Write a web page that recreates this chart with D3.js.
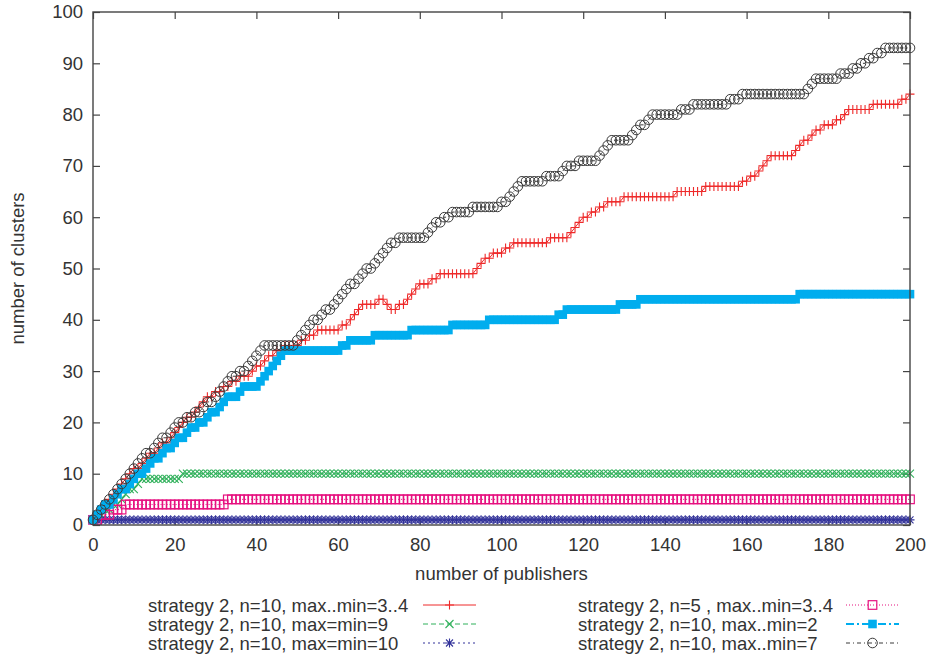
<!DOCTYPE html>
<html>
<head>
<meta charset="utf-8">
<script src="https://d3js.org/d3.v7.min.js"></script>
<style>
  body { margin: 0; background: #fff; }
  text { font-family: "Liberation Sans", Arial, sans-serif; fill: #333; }
</style>
</head>
<body>
<div id="chart"></div>
<script>
// number of publishers 0..200 (one sample per publisher)
var publishers = d3.range(0, 201);

// strategy 2, n=10, max..min=3..4
var clustersMax34 = [
  1,2,3,4,5,6,7,8,9,10,
  11,11,12,13,14,14,15,16,16,17,
  18,19,20,21,21,22,23,24,25,25,
  26,26,27,27,28,28,29,29,29,30,
  31,31,32,33,33,34,34,35,35,35,
  35,36,36,37,37,38,38,38,38,38,
  38,39,39,40,41,42,43,43,43,43,
  44,44,43,42,42,43,43,44,45,46,
  47,47,47,48,48,49,49,49,49,49,
  49,49,49,49,50,51,52,52,53,53,
  53,54,54,55,55,55,55,55,55,55,
  55,55,56,56,56,56,56,57,58,59,
  60,60,61,61,62,62,63,63,63,63,
  64,64,64,64,64,64,64,64,64,64,
  64,64,64,65,65,65,65,65,65,65,
  66,66,66,66,66,66,66,66,66,67,
  67,68,68,69,70,71,72,72,72,72,
  72,72,73,74,75,75,76,77,77,78,
  78,78,79,79,80,81,81,81,81,81,
  81,82,82,82,82,82,82,82,83,83,
  84];

// strategy 2, n=5 , max..min=3..4
var clustersN5 = [
  1,1,2,2,2,3,3,3,4,4,4,4,4,4,4,4,4,4,4,4,
  4,4,4,4,4,4,4,4,4,4,4,4,4,5,5,5,5,5,5,5,
  5,5,5,5,5,5,5,5,5,5,5,5,5,5,5,5,5,5,5,5,
  5,5,5,5,5,5,5,5,5,5,5,5,5,5,5,5,5,5,5,5,
  5,5,5,5,5,5,5,5,5,5,5,5,5,5,5,5,5,5,5,5,
  5,5,5,5,5,5,5,5,5,5,5,5,5,5,5,5,5,5,5,5,
  5,5,5,5,5,5,5,5,5,5,5,5,5,5,5,5,5,5,5,5,
  5,5,5,5,5,5,5,5,5,5,5,5,5,5,5,5,5,5,5,5,
  5,5,5,5,5,5,5,5,5,5,5,5,5,5,5,5,5,5,5,5,
  5,5,5,5,5,5,5,5,5,5,5,5,5,5,5,5,5,5,5,5,
  5];

// strategy 2, n=10, max=min=9
var clustersMax9 = [
  1,2,2,3,3,4,4,5,6,7,7,8,9,9,9,9,9,9,9,9,
  9,9,10,10,10,10,10,10,10,10,10,10,10,10,10,10,10,10,10,10,
  10,10,10,10,10,10,10,10,10,10,10,10,10,10,10,10,10,10,10,10,
  10,10,10,10,10,10,10,10,10,10,10,10,10,10,10,10,10,10,10,10,
  10,10,10,10,10,10,10,10,10,10,10,10,10,10,10,10,10,10,10,10,
  10,10,10,10,10,10,10,10,10,10,10,10,10,10,10,10,10,10,10,10,
  10,10,10,10,10,10,10,10,10,10,10,10,10,10,10,10,10,10,10,10,
  10,10,10,10,10,10,10,10,10,10,10,10,10,10,10,10,10,10,10,10,
  10,10,10,10,10,10,10,10,10,10,10,10,10,10,10,10,10,10,10,10,
  10,10,10,10,10,10,10,10,10,10,10,10,10,10,10,10,10,10,10,10,
  10];

// strategy 2, n=10, max..min=2
var clustersMax2 = [
  1,2,3,4,4,5,6,7,7,8,
  9,10,10,11,12,13,13,14,15,15,
  16,17,17,18,19,19,20,20,21,22,
  22,23,24,25,25,25,26,27,27,27,
  27,28,29,30,31,32,33,34,34,34,
  34,34,34,34,34,34,34,34,34,34,
  34,35,35,36,36,36,36,36,36,37,
  37,37,37,37,37,37,37,37,38,38,
  38,38,38,38,38,38,38,38,39,39,
  39,39,39,39,39,39,39,40,40,40,
  40,40,40,40,40,40,40,40,40,40,
  40,40,40,40,41,41,42,42,42,42,
  42,42,42,42,42,42,42,42,42,43,
  43,43,43,43,44,44,44,44,44,44,
  44,44,44,44,44,44,44,44,44,44,
  44,44,44,44,44,44,44,44,44,44,
  44,44,44,44,44,44,44,44,44,44,
  44,44,44,45,45,45,45,45,45,45,
  45,45,45,45,45,45,45,45,45,45,
  45,45,45,45,45,45,45,45,45,45,
  45];

// strategy 2, n=10, max=min=10
var clustersMax10 = [
  1,1,1,1,1,1,1,1,1,1,1,1,1,1,1,1,1,1,1,1,
  1,1,1,1,1,1,1,1,1,1,1,1,1,1,1,1,1,1,1,1,
  1,1,1,1,1,1,1,1,1,1,1,1,1,1,1,1,1,1,1,1,
  1,1,1,1,1,1,1,1,1,1,1,1,1,1,1,1,1,1,1,1,
  1,1,1,1,1,1,1,1,1,1,1,1,1,1,1,1,1,1,1,1,
  1,1,1,1,1,1,1,1,1,1,1,1,1,1,1,1,1,1,1,1,
  1,1,1,1,1,1,1,1,1,1,1,1,1,1,1,1,1,1,1,1,
  1,1,1,1,1,1,1,1,1,1,1,1,1,1,1,1,1,1,1,1,
  1,1,1,1,1,1,1,1,1,1,1,1,1,1,1,1,1,1,1,1,
  1,1,1,1,1,1,1,1,1,1,1,1,1,1,1,1,1,1,1,1,
  1];

// strategy 2, n=10, max..min=7
var clustersMax7 = [
  1,2,3,4,5,6,7,8,9,10,
  11,12,13,14,14,15,16,17,17,18,
  19,20,20,21,21,22,22,23,24,24,
  25,26,27,28,29,29,30,30,31,32,
  33,34,35,35,35,35,35,35,35,35,
  36,37,38,39,40,40,41,42,42,43,
  44,45,46,47,47,48,49,50,50,51,
  52,53,54,55,55,56,56,56,56,56,
  56,56,57,58,59,59,60,60,61,61,
  61,61,61,62,62,62,62,62,62,62,
  63,63,64,65,66,67,67,67,67,67,
  67,68,68,68,68,69,70,70,70,71,
  71,71,71,71,72,73,74,75,75,75,
  75,75,76,77,78,78,79,80,80,80,
  80,80,80,80,81,81,81,82,82,82,
  82,82,82,82,82,82,83,83,83,84,
  84,84,84,84,84,84,84,84,84,84,
  84,84,84,84,84,85,86,87,87,87,
  87,87,87,88,88,88,89,89,90,90,
  91,91,92,92,93,93,93,93,93,93,
  93];

var xTicks = [0, 20, 40, 60, 80, 100, 120, 140, 160, 180, 200];
var yTicks = [0, 10, 20, 30, 40, 50, 60, 70, 80, 90, 100];

var labels = [
  "strategy 2, n=10, max..min=3..4",
  "strategy 2, n=10, max=min=9",
  "strategy 2, n=10, max=min=10",
  "strategy 2, n=5 , max..min=3..4",
  "strategy 2, n=10, max..min=2",
  "strategy 2, n=10, max..min=7"
];

// styling, drawing order = legend order (left column, then right column)
var series = [
  {values: clustersMax34, color: "#ee2a2a", dash: null,      width: 1,   marker: "plus"},
  {values: clustersMax9,  color: "#2fb05a", dash: "5,3",     width: 1,   marker: "cross"},
  {values: clustersMax10, color: "#33339a", dash: "2,3",     width: 1,   marker: "star"},
  {values: clustersN5,    color: "#e6107f", dash: "1,2",     width: 1,   marker: "square"},
  {values: clustersMax2,  color: "#00adee", dash: "8,3,2,3", width: 2,   marker: "fsquare"},
  {values: clustersMax7,  color: "#3a3a3a", dash: "4,3,1,3", width: 1,   marker: "circle"}
];
series.forEach(function(s, i) { s.label = labels[i]; });

var W = 930, H = 657;
var plotL = 93, plotR = 910, plotT = 12, plotB = 525;

var svg = d3.select("#chart").append("svg")
  .attr("width", W).attr("height", H);

var x = d3.scaleLinear().domain([0, 200]).range([plotL, plotR]);
var y = d3.scaleLinear().domain([0, 100]).range([plotB, plotT]);

function markerPath(type) {
  if (type == "plus") return "M-4.5,0H4.5M0,-4.5V4.5";
  if (type == "cross") return "M-4,-4L4,4M-4,4L4,-4";
  if (type == "star") return "M-4.5,0H4.5M0,-4.5V4.5M-3.5,-3.5L3.5,3.5M-3.5,3.5L3.5,-3.5";
  return null;
}

function drawMarker(g, type, color) {
  if (type == "circle") {
    g.append("circle").attr("r", 4.8)
      .attr("fill", "none").attr("stroke", color).attr("stroke-width", 1);
  } else if (type == "square") {
    g.append("rect").attr("x", -4.3).attr("y", -4.3).attr("width", 8.6).attr("height", 8.6)
      .attr("fill", "none").attr("stroke", color).attr("stroke-width", 1.2);
  } else if (type == "fsquare") {
    g.append("rect").attr("x", -4.3).attr("y", -4.3).attr("width", 8.6).attr("height", 8.6)
      .attr("fill", color);
  } else {
    g.append("path").attr("d", markerPath(type))
      .attr("fill", "none").attr("stroke", color).attr("stroke-width", 1.1);
  }
}

// axes: gnuplot style, ticks inward on all four sides
var axisL = d3.axisLeft(y).tickValues(yTicks).tickSize(-7).tickPadding(10);
var axisB = d3.axisBottom(x).tickValues(xTicks).tickSize(-7).tickPadding(13);
var axisR = d3.axisRight(y).tickValues(yTicks).tickSize(-7).tickFormat("");
var axisT = d3.axisTop(x).tickValues(xTicks).tickSize(-7).tickFormat("");

svg.append("g").attr("transform", "translate(" + plotL + ",0)").call(axisL);
svg.append("g").attr("transform", "translate(0," + plotB + ")").call(axisB);
svg.append("g").attr("transform", "translate(" + plotR + ",0)").call(axisR);
svg.append("g").attr("transform", "translate(0," + plotT + ")").call(axisT);

svg.selectAll(".domain").remove();
svg.selectAll(".tick line").attr("stroke", "#444").attr("stroke-width", 1.2);
svg.selectAll(".tick text")
  .style("font-family", '"Liberation Sans", Arial, sans-serif')
  .style("font-size", "18.5px").attr("fill", "#333");

// series
var line = d3.line()
  .x(function(d, i) { return x(publishers[i]); })
  .y(function(d) { return y(d); });

series.forEach(function(s) {
  var g = svg.append("g");
  g.append("path").datum(s.values)
    .attr("d", line)
    .attr("fill", "none")
    .attr("stroke", s.color)
    .attr("stroke-width", s.width)
    .attr("stroke-dasharray", s.dash);
  g.selectAll("g.pt").data(s.values).enter().append("g")
    .attr("class", "pt")
    .attr("transform", function(d, i) { return "translate(" + x(publishers[i]) + "," + y(d) + ")"; })
    .each(function() { drawMarker(d3.select(this), s.marker, s.color); });
});

// frame
svg.append("rect")
  .attr("x", plotL).attr("y", plotT)
  .attr("width", plotR - plotL).attr("height", plotB - plotT)
  .attr("fill", "none").attr("stroke", "#444").attr("stroke-width", 1.4);

// axis titles
svg.append("text")
  .attr("x", (plotL + plotR) / 2).attr("y", 580)
  .attr("text-anchor", "middle")
  .style("font-size", "18.5px")
  .text("number of publishers");

svg.append("text")
  .attr("transform", "translate(24," + ((plotT + plotB) / 2) + ") rotate(-90)")
  .attr("text-anchor", "middle")
  .style("font-size", "18.5px")
  .text("number of clusters");

// key below the plot, two columns of three
var keyCols = [{tx: 148, lx0: 423, lx1: 476}, {tx: 578, lx0: 846, lx1: 899}];
var keyRows = [605, 624, 643];

series.forEach(function(s, i) {
  var c = keyCols[Math.floor(i / 3)], ry = keyRows[i % 3];
  svg.append("text")
    .attr("x", c.tx).attr("y", ry + 6.5)
    .style("font-size", "18.5px")
    .text(s.label);
  svg.append("line")
    .attr("x1", c.lx0).attr("x2", c.lx1)
    .attr("y1", ry).attr("y2", ry)
    .attr("stroke", s.color)
    .attr("stroke-width", s.width)
    .attr("stroke-dasharray", s.dash);
  var m = svg.append("g").attr("transform", "translate(" + ((c.lx0 + c.lx1) / 2) + "," + ry + ")");
  drawMarker(m, s.marker, s.color);
});
</script>
</body>
</html>
